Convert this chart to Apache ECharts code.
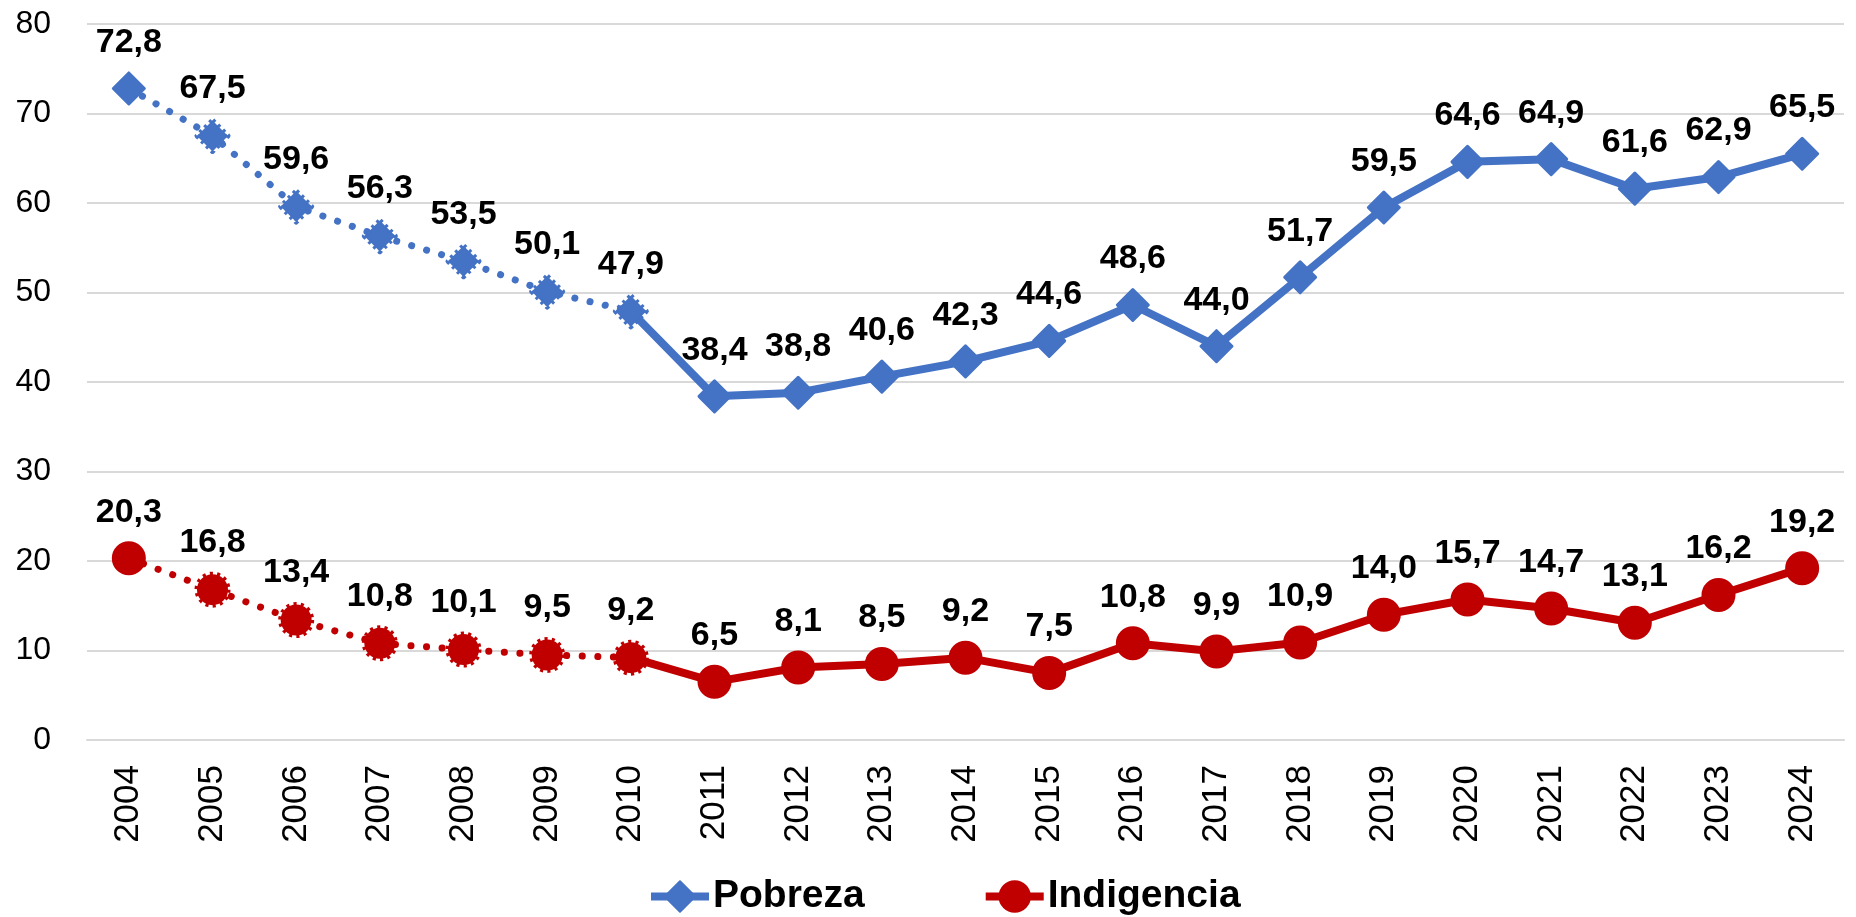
<!DOCTYPE html>
<html>
<head>
<meta charset="utf-8">
<script src="https://cdn.jsdelivr.net/npm/echarts@6/dist/echarts.min.js"></script>
<style>
html, body { margin: 0; padding: 0; background: #fff; }
#chart { width: 1856px; height: 917px; }
</style>
</head>
<body>
<div id="chart"></div>
<script>
var years = ['2004', '2005', '2006', '2007', '2008', '2009', '2010', '2011', '2012', '2013', '2014',
	'2015', '2016', '2017', '2018', '2019', '2020', '2021', '2022', '2023', '2024'];
var pobreza = [72.8, 67.5, 59.6, 56.3, 53.5, 50.1, 47.9, 38.4, 38.8, 40.6, 42.3,
	44.6, 48.6, 44.0, 51.7, 59.5, 64.6, 64.9, 61.6, 62.9, 65.5];
var indigencia = [20.3, 16.8, 13.4, 10.8, 10.1, 9.5, 9.2, 6.5, 8.1, 8.5, 9.2,
	7.5, 10.8, 9.9, 10.9, 14.0, 15.7, 14.7, 13.1, 16.2, 19.2];
// hasta 2010 la serie va punteada
var lastDotted = 6;

var font = "'Liberation Sans', Arial, sans-serif";
var BLUE = '#4472C4';
var RED = '#C00000';

function fmt(v) {
	return v.toFixed(1).replace('.', ',');
}

// parte continua (2010 en adelante)
function solidPart(values) {
	return values.map(function (v, i) {
		if (i < lastDotted) return null;
		if (i == lastDotted) return { value: v, symbol: 'none' };
		return v;
	});
}
// parte punteada (2004 - 2010)
function dottedPart(values) {
	return values.map(function (v, i) {
		if (i > lastDotted) return null;
		if (i == 0) return { value: v, symbolSize: 31, itemStyle: { borderType: 'solid', borderWidth: 3 } };
		return v;
	});
}

function labelOpt(show) {
	return {
		show: true,
		position: 'top',
		distance: 12,
		fontFamily: font,
		fontWeight: 'bold',
		fontSize: 34,
		color: '#000',
		formatter: function (p) {
			if (!show(p.dataIndex)) return '';
			return fmt(p.value);
		}
	};
}

function makeSeries(name, values, color, symbol) {
	return [
		{
			name: name,
			type: 'line',
			data: solidPart(values),
			symbol: symbol,
			symbolSize: 31,
			lineStyle: { color: color, width: 8 },
			itemStyle: { color: color, borderColor: color, borderWidth: 3, borderJoin: 'round' },
			label: labelOpt(function (i) { return i > lastDotted; }),
			z: 2
		},
		{
			name: name,
			type: 'line',
			data: dottedPart(values),
			symbol: symbol,
			symbolSize: 31,
			lineStyle: { color: color, width: 7, type: [0.1, 15.5], cap: 'round' },
			itemStyle: { color: color, borderColor: color, borderWidth: 5, borderType: [3, 4], borderJoin: 'round' },
			label: labelOpt(function (i) { return i <= lastDotted; }),
			z: 3
		}
	];
}

var myChart = echarts.init(document.getElementById('chart'));
var option = {
	animation: false,
	grid: { left: 87, right: 12, top: 24, bottom: 177 },
	legend: {
		data: ['Pobreza', 'Indigencia'],
		left: 642,
		top: 872,
		itemWidth: 58,
		itemHeight: 38,
		itemGap: 117,
		lineStyle: { width: 8 },
		textStyle: { fontFamily: font, fontWeight: 'bold', fontSize: 39, color: '#000', padding: [0, 0, 0, -1] }
	},
	xAxis: {
		type: 'category',
		data: years,
		boundaryGap: true,
		axisLine: { lineStyle: { color: '#D9D9D9', width: 2 } },
		axisTick: { show: false },
		axisLabel: {
			rotate: 90,
			margin: 25,
			fontFamily: font,
			fontSize: 35,
			color: '#000'
		}
	},
	yAxis: {
		type: 'value',
		min: 0,
		max: 80,
		interval: 10,
		axisLine: { show: false },
		axisTick: { show: false },
		splitLine: { lineStyle: { color: '#D9D9D9', width: 2 } },
		axisLabel: { margin: 36, fontFamily: font, fontSize: 32, color: '#000' }
	},
	series: makeSeries('Pobreza', pobreza, BLUE, 'diamond')
		.concat(makeSeries('Indigencia', indigencia, RED, 'circle'))
};
myChart.setOption(option);
</script>
</body>
</html>
